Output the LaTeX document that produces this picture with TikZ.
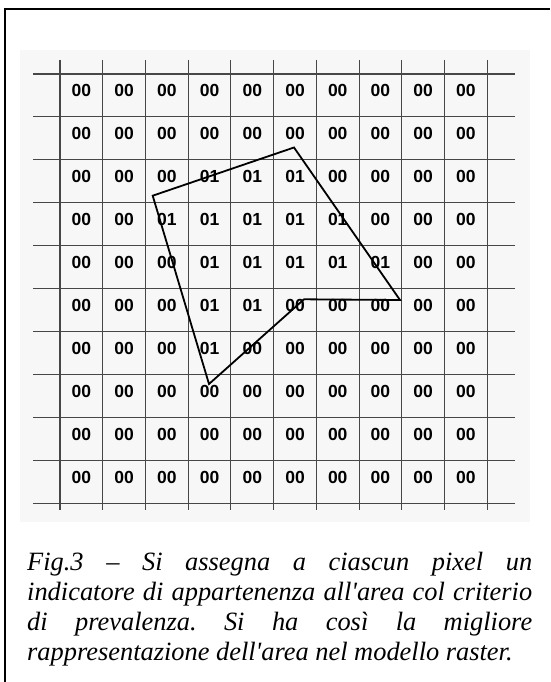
\documentclass[tikz,border=0pt]{standalone}
\usepackage{fontspec}
\setmainfont{Liberation Serif}
\newfontfamily\cellfont{Liberation Sans}
\newfontfamily\capfont{Liberation Serif}
\frenchspacing
\begin{document}
\begin{tikzpicture}[x=1pt,y=-1pt,
  gridline/.style={draw=black!72,line width=1.1pt},
  cellval/.style={anchor=base,inner sep=0pt,font=\cellfont\bfseries\fontsize{17.5}{17.5}\selectfont},
  outline/.style={draw=black,line width=1.8pt},
  capline/.style={anchor=base west,inner sep=0pt,font=\capfont\itshape\fontsize{26.4}{30}\selectfont},
  frame/.style={draw=black,line width=1.4pt}]
\useasboundingbox (0,0) rectangle (550,682);
% page frame (left and top edges)
\draw[frame] (5,682) -- (5,9) -- (550,9);
% faint backdrop of the raster
\fill[black!3] (20,50) rectangle (530,522);
% raster grid
\foreach \i in {0,...,10}{
  \draw[gridline] (33,{74+42.93*\i}) -- (515,{74+42.93*\i});
  \draw[gridline] ({60+42.73*\i},60.5) -- ({60+42.73*\i},510);
}
% pixel indicators, row by row
\foreach \row [count=\r from 0] in {
  {00,00,00,00,00,00,00,00,00,00},
  {00,00,00,00,00,00,00,00,00,00},
  {00,00,00,01,01,01,00,00,00,00},
  {00,00,01,01,01,01,01,00,00,00},
  {00,00,00,01,01,01,01,01,00,00},
  {00,00,00,01,01,00,00,00,00,00},
  {00,00,00,01,00,00,00,00,00,00},
  {00,00,00,00,00,00,00,00,00,00},
  {00,00,00,00,00,00,00,00,00,00},
  {00,00,00,00,00,00,00,00,00,00}}{
  \foreach \v [count=\c from 0] in \row {
    \node[cellval] (cell-\r-\c) at ({60+42.73*(\c+0.5)},{74+42.93*\r+22.7}) {\v};
  }
}
% area boundary
\coordinate (p1) at (152.7,195.7);
\coordinate (p2) at (294,147.5);
\coordinate (p3) at (400,300);
\coordinate (p4) at (304,299.3);
\coordinate (p5) at (209,384);
\draw[outline] (p1) -- (p2) -- (p3) -- (p4) -- (p5) -- cycle;
% caption
\node[capline] (cap1) at (27,570.5) {\makebox[505pt][s]{Fig.3 – Si assegna a ciascun pixel un}};
\node[capline] (cap2) at (27,600.5) {\makebox[505pt][s]{indicatore di appartenenza all'area col criterio}};
\node[capline] (cap3) at (27,630.5) {\makebox[505pt][s]{di prevalenza. Si ha così la migliore}};
\node[capline] (cap4) at (27,660) {rappresentazione dell'area nel modello raster.};
\end{tikzpicture}
\end{document}
